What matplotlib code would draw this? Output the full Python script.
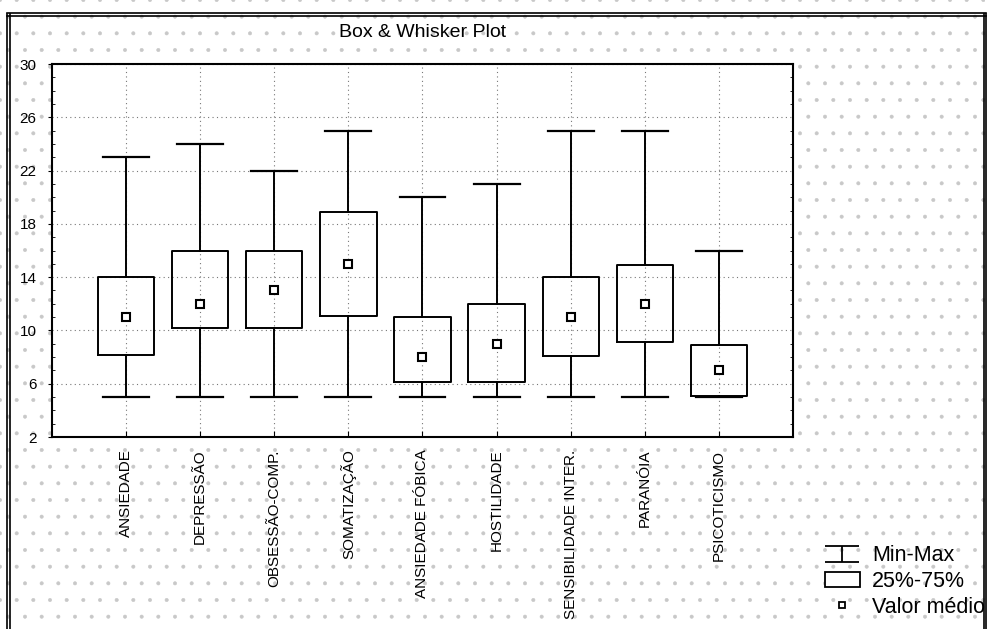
import matplotlib
matplotlib.use('Agg')
import matplotlib.pyplot as plt
from matplotlib.path import Path
from matplotlib.lines import Line2D
from matplotlib.patches import Rectangle, Patch

categories = ['ANSIEDADE', 'DEPRESSÃO', 'OBSESSÃO-COMP.', 'SOMATIZAÇÃO',
              'ANSIEDADE FÓBICA', 'HOSTILIDADE', 'SENSIBILIDADE INTER.',
              'PARANÓIA', 'PSICOTICISMO']
minimum = [5, 5, 5, 5, 5, 5, 5, 5, 5]
q25 = [8.15, 10.15, 10.15, 11.1, 6.15, 6.15, 8.1, 9.1, 5.1]
q75 = [14, 16, 16, 18.9, 11, 12, 14, 14.9, 8.9]
maximum = [23, 24, 22, 25, 20, 21, 25, 25, 16]
mean = [11, 12, 13, 15, 8, 9, 11, 12, 7]
y_ticks = [2, 6, 10, 14, 18, 22, 26, 30]

plt.rcParams['font.family'] = ['Liberation Sans', 'DejaVu Sans']
plt.rcParams['hatch.linewidth'] = 0.4

fig = plt.figure(figsize=(9.9, 6.29), dpi=100)

# stippled background of the scanned page
bg = Rectangle((0, 0), 1, 1, transform=fig.transFigure, facecolor='white',
               edgecolor='#c8c8c8', hatch='.', linewidth=0, zorder=-10)
fig.patches.append(bg)

ax = fig.add_axes([0.0525, 0.3052, 0.7485, 0.5930])
ax.set_facecolor('white')

stats = []
for i in range(len(categories)):
    stats.append(dict(med=mean[i], q1=q25[i], q3=q75[i], whislo=minimum[i],
                      whishi=maximum[i], mean=mean[i], fliers=[]))

positions = list(range(1, len(categories) + 1))
ax.bxp(stats, positions=positions, widths=0.76, capwidths=0.62,
       showmeans=True, showfliers=False,
       boxprops=dict(color='black', linewidth=1.4),
       whiskerprops=dict(color='black', linewidth=1.4),
       capprops=dict(color='black', linewidth=1.6),
       medianprops=dict(linewidth=0),
       meanprops=dict(marker='s', markersize=6, markerfacecolor='white',
                      markeredgecolor='black', markeredgewidth=1.5))

ax.set_xlim(0, 10)
ax.set_ylim(2, 30)
ax.set_yticks(y_ticks)
ax.set_yticklabels([str(t) for t in y_ticks], fontsize=11)
ax.set_yticks(range(2, 31), minor=True)
ax.set_xticks(positions)
ax.set_xticklabels(categories, rotation=90, fontsize=11)
ax.tick_params(axis='x', direction='in', length=4, pad=9)
ax.tick_params(axis='y', which='major', direction='out', length=3, pad=8)
ax.tick_params(axis='y', which='minor', direction='in', length=2,
               left=True, right=True)
ax.grid(True, which='major', linestyle=(0, (1, 3)), color='#777777',
        linewidth=0.8)
ax.set_axisbelow(True)
for s in ax.spines.values():
    s.set_linewidth(1.5)

fig.text(0.4268, 0.949, 'Box & Whisker Plot', ha='center', va='center',
         fontsize=14)

# legend
ibeam = Path([(-1, 0.45), (1, 0.45), (0, 0.45), (0, -0.45), (-1, -0.45), (1, -0.45)],
             [Path.MOVETO, Path.LINETO, Path.MOVETO, Path.LINETO,
              Path.MOVETO, Path.LINETO])
handles = [
    Line2D([], [], linestyle='none', marker=ibeam, markersize=25,
           markerfacecolor='none', markeredgecolor='black', markeredgewidth=1.3),
    Patch(facecolor='white', edgecolor='black', linewidth=1.3),
    Line2D([], [], linestyle='none', marker='s', markersize=5,
           markerfacecolor='white', markeredgecolor='black', markeredgewidth=1.3),
]
leg = fig.legend(handles, ['Min-Max', '25%-75%', 'Valor médio'],
                 loc='center left', bbox_to_anchor=(0.833, 0.0755),
                 frameon=False, fontsize=15.5, handlelength=1.65,
                 handleheight=0.75, handletextpad=0.55, labelspacing=0.22,
                 borderpad=0, borderaxespad=0)

# page border, clipping the legend text on the right
fig.patches.append(Rectangle((0.9945, 0), 0.0055, 1, transform=fig.transFigure,
                             facecolor='white', edgecolor='none', zorder=20))
for x in (0.0075, 0.0105, 0.9935, 0.9955):
    fig.add_artist(Line2D([x, x], [0, 0.978], transform=fig.transFigure,
                          color='black', linewidth=1.2, zorder=21))
for y in (0.979, 0.975):
    fig.add_artist(Line2D([0.0075, 0.9955], [y, y], transform=fig.transFigure,
                          color='black', linewidth=1.2, zorder=21))

fig.savefig('out.png', dpi=100)
